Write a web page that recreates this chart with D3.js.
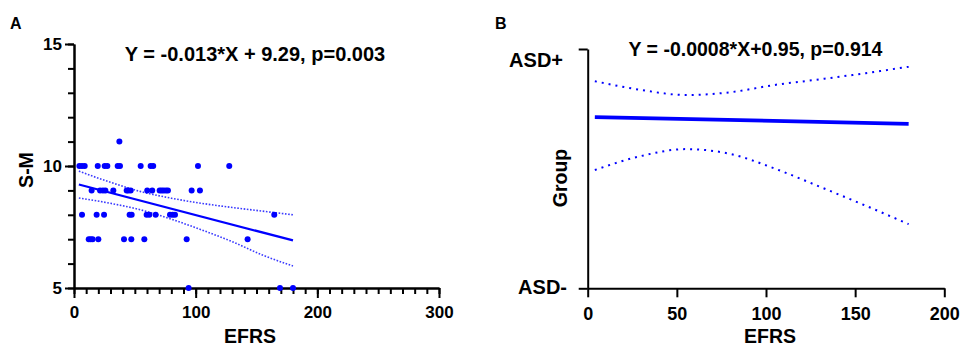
<!DOCTYPE html>
<html>
<head>
<meta charset="utf-8">
<script src="https://cdn.jsdelivr.net/npm/d3@7/dist/d3.min.js"></script>
<style>
  html, body { margin: 0; padding: 0; background: #fff; }
  svg text { font-family: "Liberation Sans", Arial, sans-serif; font-weight: bold; fill: #000; }
</style>
</head>
<body>
<svg id="chart" width="960" height="347"></svg>
<script>
// ---------- Panel A data (EFRS vs S-M) ----------
const scatterX = [
  4.4, 6.6, 8.8, 19.5, 25.2, 27.4, 35.9, 37.8, 54.8, 63.0, 65.1, 101.9, 127.6,
  37.3,
  14.5, 21.4, 23.8, 25.8, 32.3, 43.3, 44.6, 46.6, 60.2, 64.3, 70.4, 72.0, 73.7, 75.6, 77.2, 96.7, 103.5,
  6.6, 18.6, 24.7, 45.7, 47.4, 59.7, 61.9, 67.1, 78.9, 81.1, 83.0, 164.6,
  12.1, 13.7, 15.3, 20.0, 41.1, 47.1, 57.8, 92.6, 142.7,
  94.2, 169.3, 180.0
];
const scatterY = [
  10, 10, 10, 10, 10, 10, 10, 10, 10, 10, 10, 10, 10,
  11,
  9, 9, 9, 9, 9, 9, 9, 9, 9, 9, 9, 9, 9, 9, 9, 9, 9,
  8, 8, 8, 8, 8, 8, 8, 8, 8, 8, 8, 8,
  7, 7, 7, 7, 7, 7, 7, 7, 7,
  5, 5, 5
];
const fitAX = [4, 180];
const fitAY = [9.24, 6.95];
const ciAX = [4, 30, 55, 80, 105, 130, 155, 180];
const ciAUpper = [9.79, 9.33, 8.95, 8.68, 8.47, 8.30, 8.15, 8.00];
const ciALower = [8.69, 8.47, 8.20, 7.82, 7.38, 6.90, 6.35, 5.90];
const xTicksA = [0, 100, 200, 300];
const yTicksA = [5, 10, 15];
const titleA = "Y = -0.013*X + 9.29, p=0.003";

// ---------- Panel B data (EFRS vs Group) ----------
const fitBX = [4, 180];
const fitBY = [0.744, 0.715];
const ciBX = [4, 30, 55, 80, 105, 130, 155, 180];
const ciBUpper = [0.900, 0.862, 0.840, 0.852, 0.884, 0.908, 0.934, 0.963];
const ciBLower = [0.514, 0.575, 0.605, 0.584, 0.520, 0.442, 0.362, 0.279];
const xTicksB = [0, 50, 100, 150, 200];
const groupLabels = ["ASD-", "ASD+"];
const groupValues = [0, 1];
const titleB = "Y = -0.0008*X+0.95, p=0.914";

const BLUE = "#0000ff";
const svg = d3.select("#chart");

function styleAxis(g) {
  g.attr("font-family", null).attr("font-size", null);
  g.select(".domain").attr("stroke", "#000").attr("stroke-width", 2);
  g.selectAll(".tick line").attr("stroke", "#000").attr("stroke-width", 2);
  g.selectAll(".tick text").style("font-size", "17px").style("font-weight", "bold");
}

// =================== Panel A ===================
const xA = d3.scaleLinear().domain([0, 300]).range([74, 439]);
const yA = d3.scaleLinear().domain([5, 15]).range([288, 44]);

// minor ticks
svg.append("g").attr("transform", `translate(0,${yA(5)})`)
  .call(d3.axisBottom(xA).tickValues(d3.range(0, 301, 10)).tickSize(6).tickSizeOuter(0).tickFormat(""))
  .call(styleAxis);
svg.append("g").attr("transform", `translate(${xA(0)},0)`)
  .call(d3.axisLeft(yA).tickValues(d3.range(5, 16, 1)).tickSize(6).tickSizeOuter(0).tickFormat(""))
  .call(styleAxis);
// major ticks
svg.append("g").attr("transform", `translate(0,${yA(5)})`)
  .call(d3.axisBottom(xA).tickValues(xTicksA).tickSize(10).tickSizeOuter(0).tickPadding(8).tickFormat(d3.format("d")))
  .call(styleAxis);
svg.append("g").attr("transform", `translate(${xA(0)},0)`)
  .call(d3.axisLeft(yA).tickValues(yTicksA).tickSize(9).tickSizeOuter(0).tickPadding(3).tickFormat(d3.format("d")))
  .call(styleAxis);

const lineA = d3.line().x(d => xA(d[0])).y(d => yA(d[1])).curve(d3.curveMonotoneX);
svg.append("path").datum(ciAX.map((x, i) => [x, ciAUpper[i]]))
  .attr("d", lineA).attr("fill", "none").attr("stroke", "#3a3aff")
  .attr("stroke-width", 1.6).attr("stroke-dasharray", "1.6,1.6");
svg.append("path").datum(ciAX.map((x, i) => [x, ciALower[i]]))
  .attr("d", lineA).attr("fill", "none").attr("stroke", "#3a3aff")
  .attr("stroke-width", 1.6).attr("stroke-dasharray", "1.6,1.6");
svg.append("path").datum(fitAX.map((x, i) => [x, fitAY[i]]))
  .attr("d", d3.line().x(d => xA(d[0])).y(d => yA(d[1])))
  .attr("fill", "none").attr("stroke", BLUE).attr("stroke-width", 2.2);

svg.append("g").selectAll("circle")
  .data(scatterX.map((x, i) => [x, scatterY[i]]))
  .join("circle")
  .attr("cx", d => xA(d[0])).attr("cy", d => yA(d[1])).attr("r", 3)
  .attr("fill", BLUE);

svg.append("text").attr("x", 10).attr("y", 29).style("font-size", "16px").text("A");
svg.append("text").attr("x", 255).attr("y", 61).attr("text-anchor", "middle")
  .style("font-size", "20px").text(titleA);
svg.append("text").attr("x", 250).attr("y", 343).attr("text-anchor", "middle")
  .style("font-size", "19.5px").text("EFRS");
svg.append("text").attr("transform", "translate(33,170) rotate(-90)").attr("text-anchor", "middle")
  .style("font-size", "19.5px").text("S-M");

// =================== Panel B ===================
const xB = d3.scaleLinear().domain([0, 200]).range([587.7, 944.3]);
const yB = d3.scaleLinear().domain([0, 1.04]).range([288.3, 49]);

svg.append("g").attr("transform", `translate(0,${yB(0)})`)
  .call(d3.axisBottom(xB).tickValues(xTicksB).tickSize(9).tickSizeOuter(0).tickPadding(10).tickFormat(d3.format("d")))
  .call(styleAxis)
  .call(g => g.selectAll(".tick text").style("font-size", "18px"));
svg.append("g").attr("transform", `translate(${xB(0)},0)`)
  .call(d3.axisLeft(yB).tickValues([0, 1.04]).tickSize(9).tickSizeOuter(0).tickFormat(""))
  .call(styleAxis);

svg.append("g").selectAll("text.grp")
  .data(groupValues.map((v, i) => [v, groupLabels[i]]))
  .join("text").attr("class", "grp")
  .attr("x", d => d[0] === 0 ? 567 : 563)
  .attr("y", d => yB(d[0]) + (d[0] === 0 ? -1 : 2))
  .attr("dy", "0.35em").attr("text-anchor", "end")
  .style("font-size", "20px").text(d => d[1]);

const lineB = d3.line().x(d => xB(d[0])).y(d => yB(d[1])).curve(d3.curveMonotoneX);
svg.append("path").datum(ciBX.map((x, i) => [x, ciBUpper[i]]))
  .attr("d", lineB).attr("fill", "none").attr("stroke", BLUE)
  .attr("stroke-width", 2).attr("stroke-dasharray", "2,5");
svg.append("path").datum(ciBX.map((x, i) => [x, ciBLower[i]]))
  .attr("d", lineB).attr("fill", "none").attr("stroke", BLUE)
  .attr("stroke-width", 2).attr("stroke-dasharray", "2,5");
svg.append("path").datum(fitBX.map((x, i) => [x, fitBY[i]]))
  .attr("d", d3.line().x(d => xB(d[0])).y(d => yB(d[1])))
  .attr("fill", "none").attr("stroke", BLUE).attr("stroke-width", 3.8);

svg.append("text").attr("x", 495).attr("y", 29).style("font-size", "16px").text("B");
svg.append("text").attr("x", 755.5).attr("y", 55.5).attr("text-anchor", "middle")
  .style("font-size", "19.5px").text(titleB);
svg.append("text").attr("x", 770).attr("y", 343).attr("text-anchor", "middle")
  .style("font-size", "19.5px").text("EFRS");
svg.append("text").attr("transform", "translate(567,178) rotate(-90)").attr("text-anchor", "middle")
  .style("font-size", "19.5px").text("Group");
</script>
</body>
</html>
